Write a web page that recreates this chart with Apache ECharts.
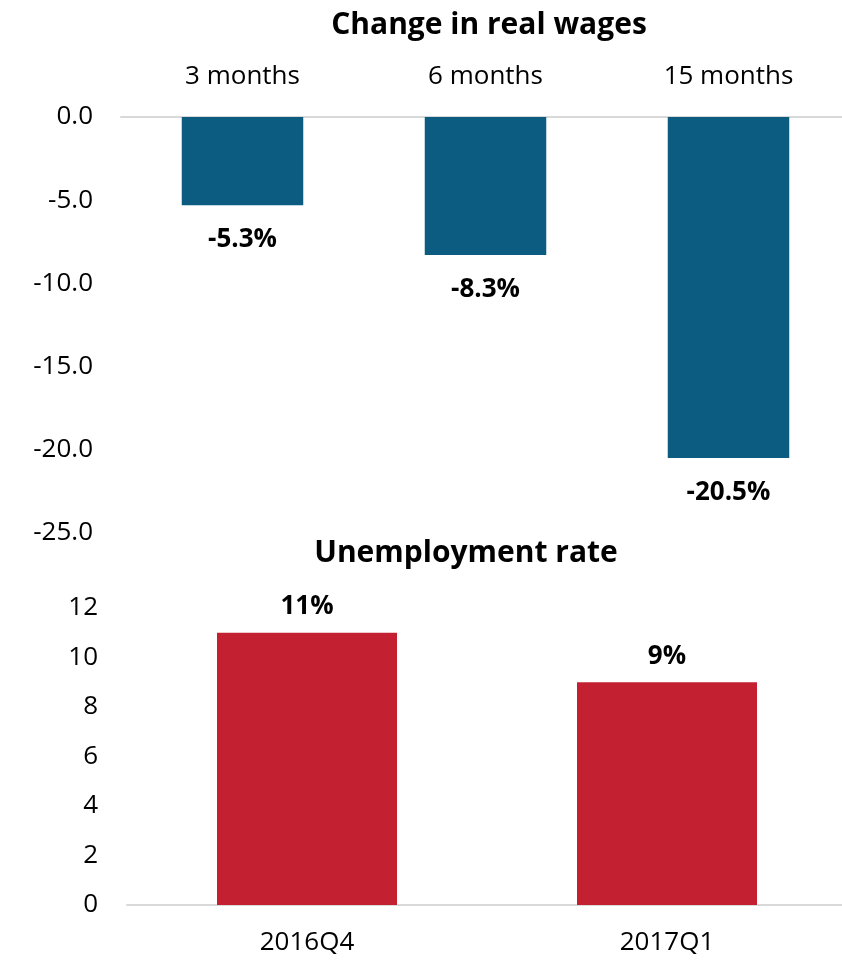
<!DOCTYPE html>
<html><head><meta charset="utf-8">
<script src="https://cdn.jsdelivr.net/npm/echarts@6/dist/echarts.min.js"></script>
<style>html,body{margin:0;padding:0;background:#fff}#c{width:842px;height:960px}</style>
</head><body><div id="c"></div>
<script>
const wageCategories = ['3 months', '6 months', '15 months'];
const wageValues = [-5.3, -8.3, -20.5];
const unempCategories = ['2016Q4', '2017Q1'];
const unempValues = [11, 9];
const wageTitle = 'Change in real wages';
const unempTitle = 'Unemployment rate';

const FONT = 'Open Sans';
const FS = 26;
const chart = echarts.init(document.getElementById('c'));
chart.setOption({
  animation: false,
  backgroundColor: '#fff',
  title: [
    {text: wageTitle, left: 484, top: 5, textAlign: 'center',
     textStyle: {fontFamily: FONT, fontWeight: 'bold', fontSize: 30, color: '#000'}},
    {text: unempTitle, left: 461, top: 533, textAlign: 'center',
     textStyle: {fontFamily: FONT, fontWeight: 'bold', fontSize: 30, color: '#000'}}
  ],
  grid: [
    {left: 121, top: 117, width: 729, height: 416, outerBoundsMode: 'none', containLabel: false},
    {left: 127, top: 608, width: 720, height: 297, outerBoundsMode: 'none', containLabel: false}
  ],
  xAxis: [
    {type: 'category', gridIndex: 0, data: wageCategories, position: 'top',
     axisLine: {lineStyle: {color: '#d9d9d9', width: 2}}, axisTick: {show: false},
     axisLabel: {fontFamily: FONT, fontSize: FS, color: '#000', margin: 27}},
    {type: 'category', gridIndex: 1, data: unempCategories,
     axisLine: {lineStyle: {color: '#d9d9d9', width: 2}}, axisTick: {show: false},
     axisLabel: {fontFamily: FONT, fontSize: FS, color: '#000', margin: 25}}
  ],
  yAxis: [
    {type: 'value', gridIndex: 0, min: -25, max: 0, interval: 5,
     splitLine: {show: false}, axisLine: {show: false}, axisTick: {show: false},
     axisLabel: {fontFamily: FONT, fontSize: FS, color: '#000', margin: 28,
       formatter: v => v.toFixed(1)}},
    {type: 'value', gridIndex: 1, min: 0, max: 12, interval: 2,
     splitLine: {show: false}, axisLine: {show: false}, axisTick: {show: false},
     axisLabel: {fontFamily: FONT, fontSize: FS, color: '#000', margin: 29}}
  ],
  series: [
    {type: 'bar', xAxisIndex: 0, yAxisIndex: 0, data: wageValues, barWidth: '50%',
     itemStyle: {color: '#0b5c80'},
     label: {show: true, position: 'bottom', distance: 21, fontFamily: FONT, fontSize: FS,
       fontWeight: 'bold', color: '#000', formatter: p => p.value.toFixed(1) + '%'}},
    {type: 'bar', xAxisIndex: 1, yAxisIndex: 1, data: unempValues, barWidth: '50%',
     itemStyle: {color: '#c32032'},
     label: {show: true, position: 'top', distance: 13, fontFamily: FONT, fontSize: FS,
       fontWeight: 'bold', color: '#000', formatter: p => p.value + '%'}}
  ]
});
</script></body></html>
